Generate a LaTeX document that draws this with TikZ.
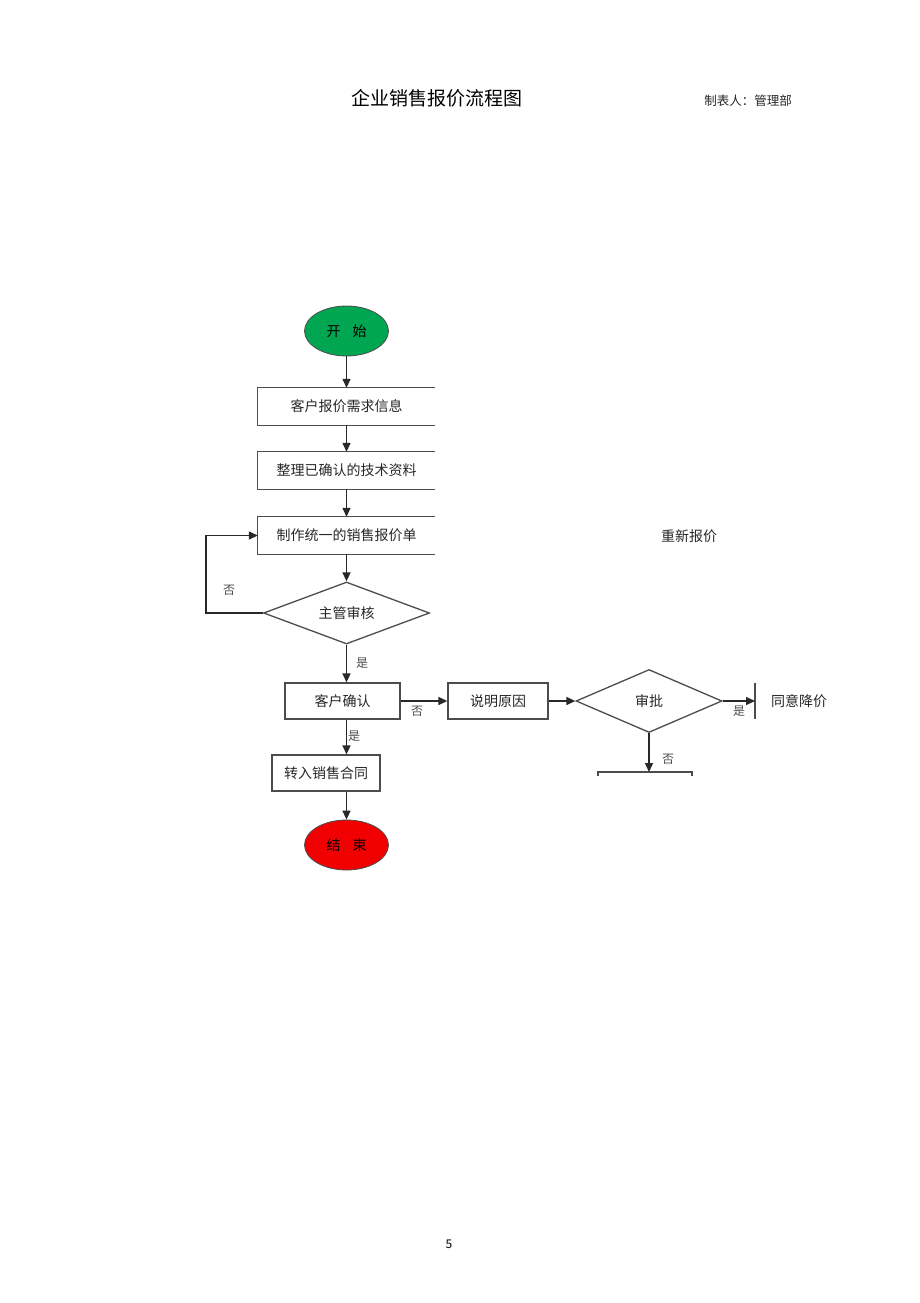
\documentclass[tikz,border=0pt]{standalone}
\usepackage{fontspec}
\setmainfont{Noto Sans CJK SC}
\usetikzlibrary{shapes.geometric,arrows.meta}
\definecolor{startgreen}{RGB}{0,166,81}
\definecolor{endred}{RGB}{240,0,0}
\definecolor{linegray}{RGB}{40,40,40}
\begin{document}
\begin{tikzpicture}[x=1pt,y=-1pt,
  every node/.style={font=\fontsize{14}{16}\selectfont, text=black!85},
  flow/.style={draw=linegray, line width=1.4pt, -{Triangle[length=9pt,width=8pt]}},
  plain/.style={draw=black!70, line width=1.3pt},
  terminal/.style={ellipse, draw=black!70, line width=0.8pt, minimum width=84pt, minimum height=50pt, inner sep=0pt},
  openbox/.style={rectangle, minimum height=37pt, inner sep=0pt},
  procbox/.style={rectangle, draw=black!70, line width=1.3pt, minimum height=36pt, inner sep=0pt},
  decision/.style={diamond, draw=black!70, line width=1.3pt, aspect=2.6, inner sep=0pt},
  lbl/.style={font=\fontsize{12}{14}\selectfont, text=black!70, inner sep=0pt}]
\useasboundingbox (0,0) rectangle (920,1303);
% title
\node[font=\fontsize{19}{22}\selectfont, text=black] (title) at (437,98) {企业销售报价流程图};
\node[font=\fontsize{12.5}{15}\selectfont, text=black!85] (maker) at (748,101) {制表人：管理部};
% start
\node[terminal, fill=startgreen, text=black] (start) at (346.5,331) {开\hspace{12pt}始};
% open boxes
\node[openbox, minimum width=177pt] (b1) at (346.5,406.5) {客户报价需求信息};
\node[openbox, minimum width=177pt] (b2) at (346.5,470.5) {整理已确认的技术资料};
\node[openbox, minimum width=177pt] (b3) at (346.5,535.5) {制作统一的销售报价单};
\foreach \b in {b1,b2,b3}{
  \draw[plain] (\b.north east) -- (\b.north west) -- (\b.south west) -- (\b.south east);
}
% decision 1
\node[decision, minimum width=166pt, minimum height=62pt] (d1) at (346.5,613) {主管审核};
% confirm
\node[procbox, minimum width=115pt] (c1) at (342.5,701) {客户确认};
\node[procbox, minimum width=108pt] (c2) at (326,773) {转入销售合同};
\node[terminal, fill=endred, text=black] (end) at (346.5,845) {结\hspace{12pt}束};
% right branch
\node[procbox, minimum width=100pt] (r1) at (498,701) {说明原因};
\node[decision, minimum width=146pt, minimum height=63pt] (d2) at (649,701) {审批};
\node[rectangle, anchor=west, minimum height=36pt, inner xsep=0pt] (agree) at (755,701) {\hspace{16pt}同意降价};
\draw[plain] (agree.north west) -- (agree.south west);
\node[font=\fontsize{14}{16}\selectfont] (requote) at (689,536) {重新报价};
\coordinate (nobar) at (649,772);
\draw[plain] (598,776) -- (598,772) -- (692,772) -- (692,776);
% connectors
\draw[flow] (start.south) -- (b1.north);
\draw[flow] (b1.south) -- (b2.north);
\draw[flow] (b2.south) -- (b3.north);
\draw[flow] (b3.south) -- (d1.north);
\draw[flow] (d1.west) -- ++(-57,0) |- (b3.west);
\draw[flow] (d1.south) -- (d1.south |- c1.north);
\draw[flow] (d1.south |- c1.south) -- (d1.south |- c2.north);
\draw[flow] (c2.south -| end.north) -- (end.north);
\draw[flow] (c1.east) -- (r1.west);
\draw[flow] (r1.east) -- (d2.west);
\draw[flow] (d2.east) -- (agree.west);
\draw[flow] (d2.south) -- (nobar);
% labels
\node[lbl] (no1) at (229,590) {否};
\node[lbl] (yes1) at (362,663) {是};
\node[lbl] (no2) at (417,711) {否};
\node[lbl] (yes2) at (354,736) {是};
\node[lbl] (yes3) at (739,711) {是};
\node[lbl] (no3) at (668,759) {否};
% page number
\node[font=\fontsize{12}{14}\selectfont, text=black] (page) at (449,1244) {5};
\end{tikzpicture}
\end{document}
